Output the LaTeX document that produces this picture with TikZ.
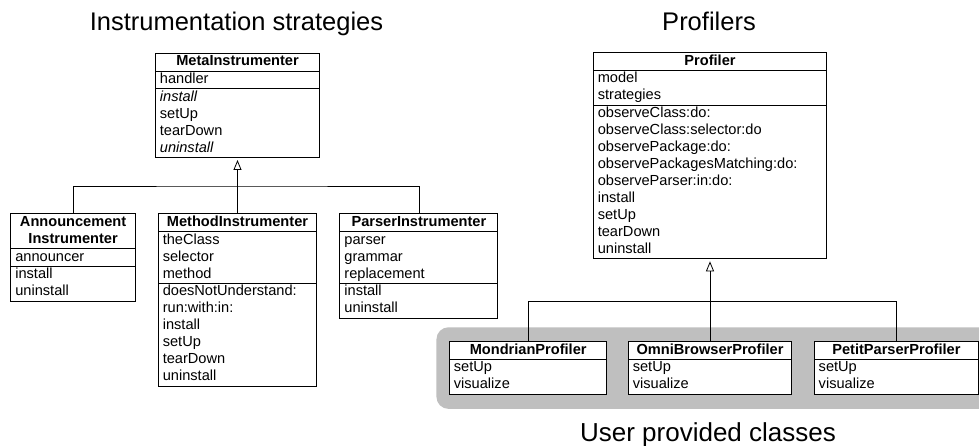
\documentclass[tikz,border=0pt]{standalone}
\usepackage{fontspec}
\setmainfont{Liberation Sans}
\usetikzlibrary{arrows.meta,positioning,shapes.multipart,fit,backgrounds}

\newcommand{\classname}[1]{\parbox[t]{\hsize}{\centering\bfseries\strut #1\strut}}
\newcommand{\members}[1]{\strut #1\strut}

\begin{document}
\begin{tikzpicture}
                [x=1pt, y=1pt,
                 umlclass/.style={rectangle split, rectangle split parts=3, draw, fill=white,
                                  line width=0.9pt, text width=#1, align=left,
                                  inner xsep=4.5pt, inner ysep=0pt,
                                  font=\fontsize{14.6}{16.95}\selectfont},
                 heading/.style={font=\fontsize{25.5}{30}\selectfont, anchor=base},
                 inherit/.style={-{Triangle[open,length=10pt,width=8pt]},line width=0.8pt,shorten >=2pt},
                 link/.style={line width=0.8pt},
                 userzone/.style={fill=black!25, rounded corners=12pt, inner xsep=12.5pt, inner ysep=14pt}]

                \useasboundingbox (0,0) rectangle (979,-446);

                % instrumentation strategies
                \node[heading] (strategies title) at (236.5,-31) {Instrumentation strategies};

                \node[umlclass=155.2pt, anchor=north] (meta instr) at (237.5,-52.7)
                    {\classname{MetaInstrumenter}
                     \nodepart{two}\members{handler}
                     \nodepart{three}\members{\textit{install}\\ setUp\\ tearDown\\ \textit{uninstall}}};

                \node[umlclass=149.4pt] (method instr) [below=55.5pt of meta instr]
                    {\classname{MethodInstrumenter}
                     \nodepart{two}\members{theClass\\ selector\\ method}
                     \nodepart{three}\members{doesNotUnderstand:\\ run:with:in:\\ install\\ setUp\\ tearDown\\ uninstall}};

                \node[umlclass=115.6pt] (announcement instr) [left=22pt of method instr.north west, anchor=north east]
                    {\classname{Announcement\\ Instrumenter}
                     \nodepart{two}\members{announcer}
                     \nodepart{three}\members{install\\ uninstall}};

                \node[umlclass=149pt] (parser instr) [right=22.3pt of method instr.north east, anchor=north west]
                    {\classname{ParserInstrumenter}
                     \nodepart{two}\members{parser\\ grammar\\ replacement}
                     \nodepart{three}\members{install\\ uninstall}};

                \coordinate[below=28pt of meta instr.south] (strategies fork);
                \draw[link] (announcement instr.north) |- (strategies fork) -| (parser instr.north);
                \draw[inherit] (method instr.north) -- (meta instr.south);

                % profilers
                \node[heading] (profilers title) at (709,-31) {Profilers};

                \node[umlclass=224.4pt, anchor=north] (profiler) at (710,-52.3)
                    {\classname{Profiler}
                     \nodepart{two}\members{model\\ strategies}
                     \nodepart{three}\members{observeClass:do:\\ observeClass:selector:do\\ observePackage:do:\\
                                              observePackagesMatching:do:\\ observeParser:in:do:\\
                                              install\\ setUp\\ tearDown\\ uninstall}};

                \node[umlclass=154.4pt, rectangle split parts=2] (omni profiler) [below=82pt of profiler]
                    {\classname{OmniBrowserProfiler}
                     \nodepart{two}\members{setUp\\ visualize}};

                \node[umlclass=148.5pt, rectangle split parts=2] (mondrian profiler) [left=20.5pt of omni profiler.north west, anchor=north east]
                    {\classname{MondrianProfiler}
                     \nodepart{two}\members{setUp\\ visualize}};

                \node[umlclass=155.4pt, rectangle split parts=2] (petit profiler) [right=21.6pt of omni profiler.north east, anchor=north west]
                    {\classname{PetitParserProfiler}
                     \nodepart{two}\members{setUp\\ visualize}};

                \coordinate[below=42.5pt of profiler.south] (profilers fork);
                \draw[link] (mondrian profiler.north) |- (profilers fork) -| (petit profiler.north);
                \draw[inherit] (omni profiler.north) -- (profiler.south);

                % user provided classes
                \begin{scope}[on background layer]
                    \node[userzone, fit=(mondrian profiler) (omni profiler) (petit profiler)] (user zone) {};
                \end{scope}
                \node[heading, font=\fontsize{26}{30}\selectfont] (user title) at (708,-441) {User provided classes};

            \end{tikzpicture}
\end{document}
